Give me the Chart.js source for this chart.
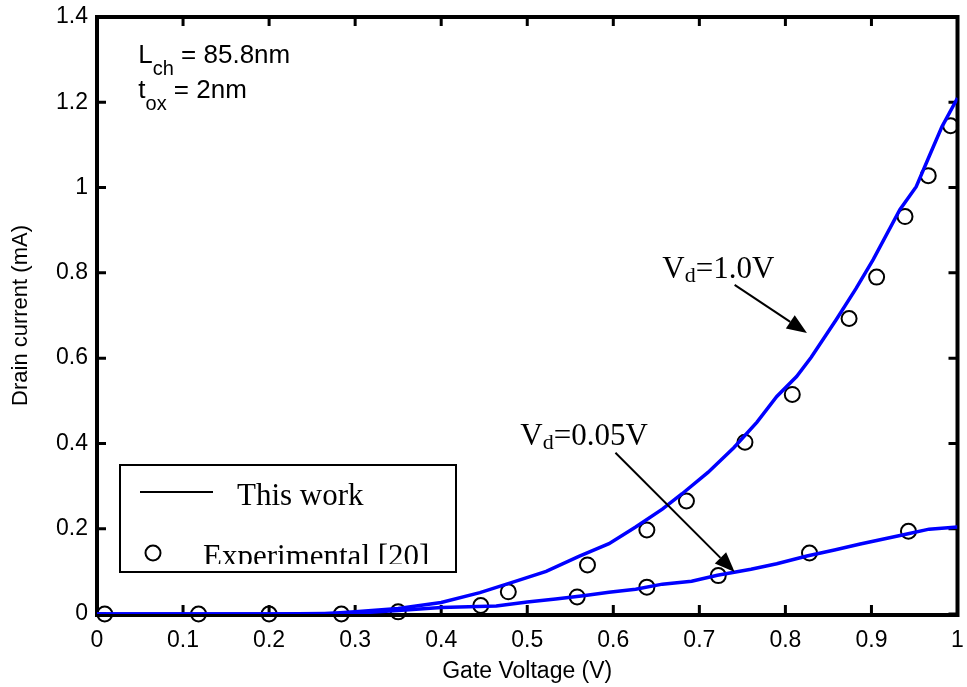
<!DOCTYPE html>
<html>
<head>
<meta charset="utf-8">
<script src="https://cdn.jsdelivr.net/npm/chart.js@4.4.1/dist/chart.umd.min.js"></script>
<style>
  body { margin: 0; background: #fff; }
</style>
</head>
<body>
<canvas id="grafikArus" width="967" height="687"></canvas>
<script>
// Kurva model (This work), Vd = 1.0V
const vgModelTinggi = [0, 0.1, 0.2, 0.26, 0.3, 0.35, 0.4, 0.445, 0.487, 0.522, 0.56, 0.595, 0.626, 0.657, 0.68, 0.71, 0.74, 0.767, 0.79, 0.813, 0.83, 0.859, 0.882, 0.902, 0.933, 0.952, 0.967, 0.982, 1.0];
const idModelTinggi = [0, 0, 0, 0, 0.005, 0.013, 0.027, 0.05, 0.077, 0.1, 0.135, 0.165, 0.204, 0.246, 0.282, 0.332, 0.39, 0.45, 0.51, 0.557, 0.602, 0.69, 0.763, 0.831, 0.948, 1.002, 1.073, 1.143, 1.21];

// Kurva model, Vd = 0.05V
const vgModelRendah = [0, 0.1, 0.2, 0.3, 0.35, 0.4, 0.464, 0.5, 0.533, 0.565, 0.595, 0.626, 0.657, 0.691, 0.721, 0.76, 0.79, 0.825, 0.857, 0.887, 0.94, 0.967, 1.0];
const idModelRendah = [0, 0, 0, 0.002, 0.008, 0.015, 0.019, 0.028, 0.035, 0.043, 0.051, 0.058, 0.07, 0.077, 0.091, 0.105, 0.118, 0.136, 0.15, 0.164, 0.187, 0.199, 0.204];

// Data eksperimen [20]
const vgEksperimen = [0.009, 0.118, 0.2, 0.284, 0.35, 0.446, 0.558, 0.639, 0.722, 0.828, 0.943, 0.478, 0.57, 0.639, 0.685, 0.753, 0.808, 0.874, 0.906, 0.939, 0.966, 0.992];
const idEksperimen = [0, 0, 0, 0, 0.005, 0.02, 0.04, 0.063, 0.09, 0.143, 0.194, 0.052, 0.115, 0.197, 0.265, 0.403, 0.515, 0.693, 0.79, 0.932, 1.028, 1.145];

const tickX = [0, 0.1, 0.2, 0.3, 0.4, 0.5, 0.6, 0.7, 0.8, 0.9, 1];
const tickY = [0, 0.2, 0.4, 0.6, 0.8, 1, 1.2, 1.4];

const fontSans = 'Liberation Sans, Arial, sans-serif';
const fontSerif = 'Liberation Serif, Times New Roman, serif';

function gabung(xs, ys) {
    return xs.map((x, i) => ({ x: x, y: ys[i] }));
}

// teks dengan subskrip: bagian = [[teks, subskrip?], ...]
function tulisTeks(ctx, x, y, bagian, font, ukuran, ukuranSub, turun) {
    ctx.textBaseline = 'alphabetic';
    ctx.textAlign = 'left';
    bagian.forEach(([teks, sub]) => {
        ctx.font = (sub ? ukuranSub : ukuran) + 'px ' + font;
        ctx.fillText(teks, x, sub ? y + turun : y);
        x += ctx.measureText(teks).width;
    });
}

function panah(ctx, x1, y1, x2, y2) {
    const sudut = Math.atan2(y2 - y1, x2 - x1);
    const pjg = 20, lebar = 8;
    const bx = x2 - pjg * Math.cos(sudut);
    const by = y2 - pjg * Math.sin(sudut);
    ctx.lineWidth = 2;
    ctx.beginPath();
    ctx.moveTo(x1, y1);
    ctx.lineTo(bx, by);
    ctx.stroke();
    ctx.beginPath();
    ctx.moveTo(x2, y2);
    ctx.lineTo(bx + lebar * Math.sin(sudut), by - lebar * Math.cos(sudut));
    ctx.lineTo(bx - lebar * Math.sin(sudut), by + lebar * Math.cos(sudut));
    ctx.closePath();
    ctx.fill();
}

// bingkai ala MATLAB dengan tick ke dalam di keempat sisi
const bingkai = {
    id: 'bingkai',
    beforeDatasetsDraw(chart) {
        const { ctx, chartArea: a, scales } = chart;
        const tl = 9;
        ctx.save();
        ctx.strokeStyle = '#000';
        ctx.lineWidth = 4;
        ctx.strokeRect(a.left, a.top, a.right - a.left, a.bottom - a.top + 1);
        ctx.lineWidth = 3;
        ctx.beginPath();
        tickX.forEach(v => {
            const px = scales.x.getPixelForValue(v);
            ctx.moveTo(px, a.bottom);
            ctx.lineTo(px, a.bottom - tl);
            ctx.moveTo(px, a.top);
            ctx.lineTo(px, a.top + tl);
        });
        tickY.forEach(v => {
            const py = scales.y.getPixelForValue(v);
            ctx.moveTo(a.left, py);
            ctx.lineTo(a.left + tl, py);
            ctx.moveTo(a.right, py);
            ctx.lineTo(a.right - tl, py);
        });
        ctx.stroke();
        ctx.restore();
    }
};

const anotasi = {
    id: 'anotasi',
    afterDraw(chart) {
        const { ctx, chartArea: a, scales } = chart;
        const px = v => scales.x.getPixelForValue(v);
        const py = v => scales.y.getPixelForValue(v);
        ctx.save();
        ctx.fillStyle = '#000';
        ctx.strokeStyle = '#000';

        // keterangan panjang kanal dan tebal oksida
        tulisTeks(ctx, px(0.048), py(1.292), [['L', false], ['ch', true], [' = 85.8nm', false]], fontSans, 26, 20, 12);
        tulisTeks(ctx, px(0.048), py(1.210), [['t', false], ['ox', true], [' = 2nm', false]], fontSans, 26, 20, 12);

        // label tegangan drain + panah
        tulisTeks(ctx, px(0.657), py(0.788), [['V', false], ['d', true], ['=1.0V', false]], fontSerif, 31, 22, 4);
        panah(ctx, px(0.741), py(0.772), px(0.825), py(0.659));
        tulisTeks(ctx, px(0.492), py(0.396), [['V', false], ['d', true], ['=0.05V', false]], fontSerif, 31, 22, 4);
        panah(ctx, px(0.6025), py(0.378), px(0.741), py(0.0985));

        // kotak legenda
        const kx = a.left + 23, ky = 465, kw = 336, kh = 107;
        ctx.fillStyle = '#fff';
        ctx.fillRect(kx, ky, kw, kh);
        ctx.lineWidth = 2;
        ctx.strokeRect(kx, ky, kw, kh);
        ctx.fillStyle = '#000';
        ctx.beginPath();
        ctx.moveTo(kx + 20, ky + 27);
        ctx.lineTo(kx + 93, ky + 27);
        ctx.stroke();
        ctx.font = '31px ' + fontSerif;
        ctx.textBaseline = 'alphabetic';
        ctx.fillText('This work', kx + 117, ky + 40);
        ctx.beginPath();
        ctx.arc(kx + 33, ky + 88, 7.5, 0, Math.PI * 2);
        ctx.stroke();
        ctx.save();
        ctx.beginPath();
        ctx.rect(kx + 2, ky + 2, kw - 4, kh - 10);
        ctx.clip();
        ctx.fillText('Experimental [20]', kx + 83, ky + 101);
        ctx.restore();
        ctx.restore();
    }
};

const ctx = document.getElementById('grafikArus').getContext('2d');
const grafik = new Chart(ctx, {
    type: 'scatter',
    data: {
        datasets: [
            {
                label: 'Vd=1.0V',
                data: gabung(vgModelTinggi, idModelTinggi),
                showLine: true,
                borderColor: '#0000ff',
                borderWidth: 3.5,
                pointRadius: 0,
                tension: 0
            },
            {
                label: 'Vd=0.05V',
                data: gabung(vgModelRendah, idModelRendah),
                showLine: true,
                borderColor: '#0000ff',
                borderWidth: 3.5,
                pointRadius: 0,
                tension: 0
            },
            {
                label: 'Experimental [20]',
                data: gabung(vgEksperimen, idEksperimen),
                showLine: false,
                pointStyle: 'circle',
                pointRadius: 7.5,
                pointBorderWidth: 2,
                pointBorderColor: '#000',
                pointBackgroundColor: 'rgba(0,0,0,0)',
                clip: false
            }
        ]
    },
    options: {
        responsive: false,
        animation: false,
        devicePixelRatio: 1,
        layout: { padding: { top: 17, right: 2, left: 0, bottom: 0 } },
        plugins: {
            legend: { display: false },
            tooltip: { enabled: false }
        },
        scales: {
            x: {
                type: 'linear',
                min: 0,
                max: 1,
                grid: { display: false, drawTicks: false },
                border: { display: false },
                afterBuildTicks: s => { s.ticks = tickX.map(v => ({ value: v })); },
                afterFit: s => { s.height = 73; s.paddingLeft = 0; s.paddingRight = 0; },
                ticks: {
                    autoSkip: false,
                    maxRotation: 0,
                    padding: 13,
                    color: '#000',
                    font: { family: fontSans, size: 23 },
                    callback: v => String(v)
                },
                title: {
                    display: true,
                    text: 'Gate Voltage (V)',
                    color: '#000',
                    font: { family: fontSans, size: 23 },
                    padding: { top: 0, bottom: 2 }
                }
            },
            y: {
                type: 'linear',
                min: 0,
                max: 1.4,
                grid: { display: false, drawTicks: false },
                border: { display: false },
                afterBuildTicks: s => { s.ticks = tickY.map(v => ({ value: v })); },
                afterFit: s => { s.width = 97; s.paddingTop = 0; s.paddingBottom = 0; },
                ticks: {
                    autoSkip: false,
                    padding: 9,
                    color: '#000',
                    font: { family: fontSans, size: 23 },
                    callback: v => String(v)
                },
                title: {
                    display: true,
                    text: 'Drain current (mA)',
                    color: '#000',
                    font: { family: fontSans, size: 22 },
                    padding: { top: 8, bottom: 0 }
                }
            }
        }
    },
    plugins: [bingkai, anotasi]
});
</script>
</body>
</html>
